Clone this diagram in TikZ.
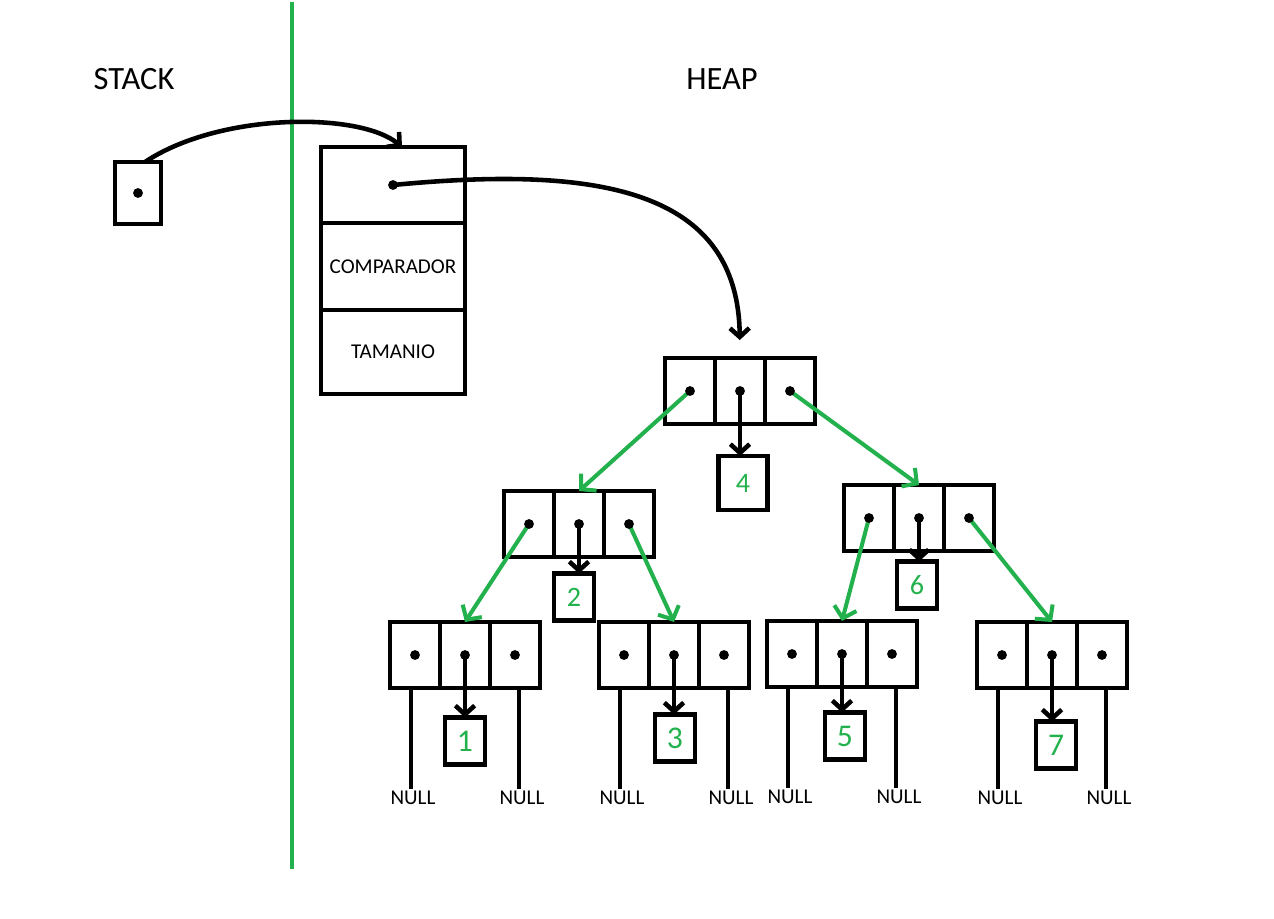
\documentclass[tikz,border=0pt]{standalone}
\usepackage{fontspec}
\setmainfont{Carlito}
\usetikzlibrary{calc, arrows.meta, positioning}
\definecolor{paintgreen}{RGB}{34,177,76}

\begin{document}
\begin{tikzpicture}[x=0.02cm, y=-0.02cm,
    cell/.style={draw, line width=2.6pt, outer sep=0pt, inner sep=0pt, minimum width=1cm, minimum height=1.32cm},
    field/.style={draw, line width=2.6pt, outer sep=0pt, minimum width=2.88cm, font=\fontsize{12}{14}\selectfont},
    val/.style={draw, line width=2.6pt, outer sep=0pt, inner sep=0pt, minimum width=0.8cm, minimum height=0.94cm, text=paintgreen, font=\fontsize{16}{18}\selectfont},
    nulltxt/.style={inner sep=1pt, font=\fontsize{12}{14}\selectfont},
    title/.style={font=\fontsize{18.5}{20}\selectfont},
    bk/.style={line width=2.6pt, -{Straight Barb[length=5pt, width=11pt]}},
    gr/.style={paintgreen, line width=2.3pt, -{Straight Barb[length=6pt, width=13pt]}}]

  \useasboundingbox (0,0) rectangle (1274,919);

  \node[title] (stack) at (134,79) {STACK};
  \node[title] (heap) at (722,79) {HEAP};
  \draw[paintgreen, line width=2.4pt] (292,2) -- (292,869);

  % stack pointer and the struct it points to
  \node[cell, minimum width=0.92cm, minimum height=1.24cm] (ptr) at (138,193) {};
  \node[field, minimum height=1.52cm] (s1) at (393,185) {};
  \node[field, minimum height=1.74cm, below=0pt of s1] (s2) {COMPARADOR};
  \node[field, minimum height=1.68cm, below=0pt of s2] (s3) {TAMANIO};

  % tree nodes: left, middle, right cell
  \foreach \n/\x/\y in {4/690/391, 2/529/524, 6/869/518, 1/415/655, 3/624/655, 5/792/654, 7/1002/655} {
    \node[cell] (n\n l) at (\x,\y) {};
    \node[cell, right=0pt of n\n l] (n\n m) {};
    \node[cell, right=0pt of n\n m] (n\n r) {};
  }

  % values
  \node[val, minimum width=0.98cm, minimum height=1.08cm] (v4) at (743,483) {4};
  \node[val] (v2) at (574,597) {2};
  \node[val] (v6) at (917,585) {6};
  \foreach \n/\x/\y in {1/465/741, 3/675/738, 5/845/736, 7/1056/745}
    \node[val, font=\fontsize{18}{20}\selectfont] (v\n) at (\x,\y) {\n};

  % NULL children of the leaves
  \foreach \n in {1,3,5,7} {
    \node[nulltxt] (z\n l) at ($(n\n l.south)+(-2,110)$) {NULL};
    \node[nulltxt] (z\n r) at ($(n\n r.south)+(7,110)$) {NULL};
    \draw[line width=2.6pt] ([xshift=-0.08cm]n\n l.south) -- ([xshift=-0.08cm]n\n l.south |- z\n l.north);
    \draw[line width=2.6pt] ([xshift=0.08cm]n\n r.south) -- ([xshift=0.08cm]n\n r.south |- z\n r.north);
  }

  % pointers
  \draw[bk] ([xshift=0.14cm]ptr.north) .. controls (220,112) and (360,112) .. ([xshift=0.18cm]s1.north);
  \draw[bk, shorten >=0.36cm] (s1.center) .. controls (600,165) and (738,190) .. (n4m.north);
  \foreach \n in {4,2,6,1,3,5,7}
    \draw[bk] (n\n m.center) -- (n\n m.center |- v\n.north);

  \draw[gr] (n4l.center) -- (n2m.north);
  \draw[gr] (n4r.center) -- (n6m.north);
  \draw[gr] (n2l.center) -- (n1m.north);
  \draw[gr] (n2r.center) -- (n3m.north);
  \draw[gr] (n6l.center) -- (n5m.north);
  \draw[gr] (n6r.center) -- (n7m.north);

  % dots
  \foreach \n in {4,2,6,1,3,5,7}
    \foreach \p in {l,m,r}
      \fill (n\n\p) circle[radius=2.8pt];
  \fill (ptr) circle[radius=2.8pt];
  \fill (s1) circle[radius=2.8pt];
\end{tikzpicture}
\end{document}
